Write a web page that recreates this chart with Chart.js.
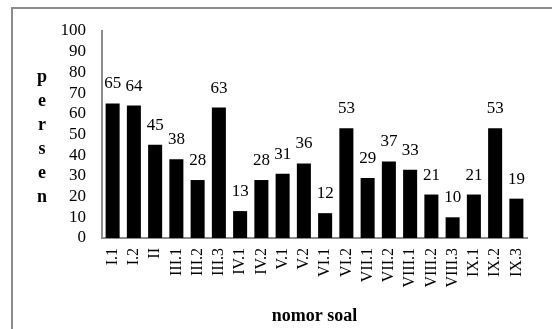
<!DOCTYPE html>
<html>
<head>
<meta charset="utf-8">
<script src="https://cdn.jsdelivr.net/npm/chart.js@4"></script>
<style>
  html, body { margin: 0; padding: 0; background: #fff; overflow: hidden; }
  #wrap { position: relative; width: 552px; height: 329px; }
  #frame {
    position: absolute; left: 11px; top: 7px; width: 600px; height: 400px;
    border-top: 2px solid #8c8c8c; border-left: 2px solid #8c8c8c;
    box-sizing: border-box;
  }
  canvas { position: absolute; left: 0; top: 0; }
</style>
</head>
<body>
<div id="wrap">
  <div id="frame"></div>
  <canvas id="chart" width="552" height="329"></canvas>
</div>
<script>
// data
const soal = ['I.1', 'I.2', 'II', 'III.1', 'III.2', 'III.3', 'IV.1', 'IV.2', 'V.1', 'V.2',
              'VI.1', 'VI.2', 'VII.1', 'VII.2', 'VIII.1', 'VIII.2', 'VIII.3', 'IX.1', 'IX.2', 'IX.3'];
const persen = [65, 64, 45, 38, 28, 63, 13, 28, 31, 36, 12, 53, 29, 37, 33, 21, 10, 21, 53, 19];
const yTitle = ['p', 'e', 'r', 's', 'e', 'n'];

const serif = "'Liberation Serif', 'DejaVu Serif', serif";

// angka di atas batang
const valueLabels = {
  id: 'valueLabels',
  afterDatasetsDraw(chart) {
    const ctx = chart.ctx;
    const meta = chart.getDatasetMeta(0);
    ctx.save();
    ctx.font = '17px ' + serif;
    ctx.fillStyle = '#000';
    ctx.textAlign = 'center';
    ctx.textBaseline = 'alphabetic';
    meta.data.forEach((bar, i) => {
      ctx.fillText(String(persen[i]), bar.x, bar.y - 15);
    });
    ctx.restore();
  }
};

// judul sumbu y, huruf tersusun ke bawah
const verticalTitle = {
  id: 'verticalTitle',
  afterDraw(chart) {
    const ctx = chart.ctx;
    ctx.save();
    ctx.font = 'bold 18px ' + serif;
    ctx.fillStyle = '#000';
    ctx.textAlign = 'center';
    ctx.textBaseline = 'middle';
    yTitle.forEach((ch, i) => {
      ctx.fillText(ch, 42, 77 + i * 24);
    });
    ctx.restore();
  }
};

new Chart(document.getElementById('chart'), {
  type: 'bar',
  data: {
    labels: soal,
    datasets: [{
      data: persen,
      backgroundColor: '#000',
      borderWidth: 0,
      barPercentage: 0.66,
      categoryPercentage: 1
    }]
  },
  options: {
    responsive: false,
    animation: false,
    layout: { padding: { top: 31, right: 25, bottom: 0, left: 0 } },
    plugins: {
      legend: { display: false },
      tooltip: { enabled: false }
    },
    scales: {
      x: {
        grid: { display: false, drawTicks: false },
        border: { display: true, color: '#8c8c8c', width: 2 },
        ticks: {
          color: '#000',
          font: { family: serif, size: 16 },
          maxRotation: 90,
          minRotation: 90,
          padding: 10,
          autoSkip: false
        },
        title: {
          display: true,
          text: 'nomor soal',
          color: '#000',
          font: { family: serif, size: 18, weight: 'bold' },
          padding: { top: 0, bottom: 2 }
        },
        afterFit(scale) { scale.height = 91; }
      },
      y: {
        min: 0,
        max: 100,
        grid: { display: false, drawTicks: false },
        border: { display: true, color: '#8c8c8c', width: 2 },
        ticks: {
          stepSize: 10,
          autoSkip: false,
          color: '#000',
          font: { family: serif, size: 17, lineHeight: 1 },
          padding: 16
        },
        afterFit(scale) { scale.width = 102; }
      }
    }
  },
  plugins: [valueLabels, verticalTitle]
});
</script>
</body>
</html>
